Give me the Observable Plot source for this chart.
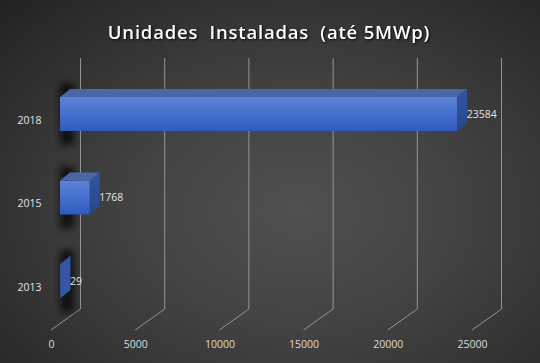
<!DOCTYPE html>
<html>
<head>
<meta charset="utf-8">
<script src="https://cdn.jsdelivr.net/npm/d3@7"></script>
<script src="https://cdn.jsdelivr.net/npm/@observablehq/plot@0.6"></script>
<style>
  html, body { margin: 0; padding: 0; background: #2a2a2a; }
</style>
</head>
<body>
<div id="chart"></div>
<script>
const years = ["2018", "2015", "2013"];
const units = [23584, 1768, 29];
const xTicks = [0, 5000, 10000, 15000, 20000, 25000];
const title = "Unidades  Instaladas  (até 5MWp)";

const data = years.map((y, i) => ({year: y, value: units[i]}));

const DEPTH_X = 10, DEPTH_Y = 8;      // bar depth (oblique projection)
const WALL_X = 20, WALL_Y = 21;       // back wall offset relative to bar front
const FLOOR_X = -9;                   // floor front edge offset

const svgNS = "http://www.w3.org/2000/svg";
function el(name, attrs) {
  const e = document.createElementNS(svgNS, name);
  for (const k in attrs) e.setAttribute(k, attrs[k]);
  return e;
}

const chart = Plot.plot({
  width: 540,
  height: 363,
  marginTop: 58,
  marginBottom: 54,
  marginLeft: 0,
  marginRight: 0,
  style: {
    background: "radial-gradient(ellipse 75% 80% at 55% 58%, #505050 0%, #434343 40%, #2c2c2c 85%, #232323 100%)",
    color: "#d9d9d9",
    fontFamily: "'Open Sans', sans-serif",
    fontSize: "10.5px"
  },
  x: {domain: [0, 25000], range: [60, 481], axis: null},
  y: {type: "band", domain: years, range: [47.5, 347.5], padding: 0.5928, round: false, axis: null},
  marks: [
    // gridlines: back wall verticals + floor diagonals
    Plot.ruleX(xTicks, {
      x: d => d,
      render(index, scales, values, dims) {
        const g = el("g", {stroke: "#959595", "stroke-width": 1, fill: "none"});
        const yb = dims.height - dims.marginBottom;
        for (const i of index) {
          const t = xTicks[i];
          const xb = scales.x(t) + WALL_X;
          const xf = scales.x(t) + FLOOR_X;
          g.appendChild(el("path", {
            d: `M${xb + 0.5},${dims.marginTop}V${yb}L${xf},${yb + WALL_Y}`
          }));
        }
        return g;
      }
    }),
    // 3D bars
    Plot.barX(data, {
      x: "value",
      y: "year",
      fill: "#4a74cf",
      render(index, scales, values, dims, context, next) {
        const g = next(index, scales, values, dims, context, next);
        const defs = el("defs", {});
        defs.innerHTML = `
          <linearGradient id="frontG" x1="0" y1="0" x2="0" y2="1">
            <stop offset="0" stop-color="#5b82d6"/>
            <stop offset="0.5" stop-color="#4670cc"/>
            <stop offset="1" stop-color="#2d5bbd"/>
          </linearGradient>
          <linearGradient id="sideG" x1="0" y1="0" x2="0" y2="1">
            <stop offset="0" stop-color="#34559e"/>
            <stop offset="1" stop-color="#27468a"/>
          </linearGradient>
          <filter id="blurS" x="-100%" y="-100%" width="300%" height="300%">
            <feGaussianBlur stdDeviation="3.6"/>
          </filter>`;
        const rects = Array.from(g.querySelectorAll("rect"));
        const shadows = el("g", {filter: "url(#blurS)", fill: "#000", "fill-opacity": 0.7});
        const faces = el("g", {});
        rects.forEach(r => {
          const x0 = +r.getAttribute("x"), w = +r.getAttribute("width");
          const y0 = +r.getAttribute("y"), h = +r.getAttribute("height");
          const x1 = x0 + w, y1 = y0 + h;
          shadows.appendChild(el("rect", {x: x0, y: y0 - 14, width: 14, height: h + 28}));
          r.setAttribute("fill", "url(#frontG)");
          faces.appendChild(el("polygon", {
            points: `${x0},${y0} ${x1},${y0} ${x1 + DEPTH_X},${y0 - DEPTH_Y} ${x0 + DEPTH_X},${y0 - DEPTH_Y}`,
            fill: "#4a66a4"
          }));
          faces.appendChild(el("polygon", {
            points: `${x1},${y0} ${x1 + DEPTH_X},${y0 - DEPTH_Y} ${x1 + DEPTH_X},${y1 - DEPTH_Y} ${x1},${y1}`,
            fill: w < 2 ? "#3556a8" : "url(#sideG)"
          }));
        });
        const wrap = el("g", {});
        wrap.appendChild(defs);
        wrap.appendChild(shadows);
        wrap.appendChild(g);
        wrap.appendChild(faces);
        return wrap;
      }
    }),
    // value labels
    Plot.text(data, {
      x: "value", y: "year", text: d => String(d.value),
      dx: 9, textAnchor: "start", fill: "#e4e4e4", fontSize: 10.5
    }),
    // category labels
    Plot.text(data, {
      x: () => 0, y: "year", text: "year",
      dx: -19, dy: 6, textAnchor: "end", fill: "#e4e4e4", fontSize: 10.5
    }),
    // x tick labels on floor front edge
    Plot.axisX(xTicks, {
      tickSize: 0, tickPadding: 31, dx: FLOOR_X, label: null,
      tickFormat: d => String(d), fill: "#dcdcdc", fontSize: 10.5
    }),
    // title
    Plot.text([title], {
      frameAnchor: "top", text: d => d, dy: -33, dx: -1.5,
      fill: "#ffffff", fontSize: 18.5, fontWeight: 600
    })
  ]
});

d3.select(chart).selectAll("text").filter(function() {
  return this.textContent === title;
}).style("white-space", "pre")
  .style("letter-spacing", "0.8px")
  .style("filter", "drop-shadow(1px 1.5px 1px rgba(0,0,0,0.85))");

document.getElementById("chart").appendChild(chart);
</script>
</body>
</html>
